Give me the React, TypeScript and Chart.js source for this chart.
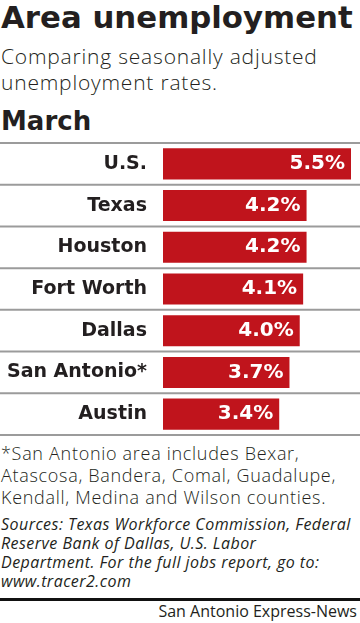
import React, { useEffect, useRef } from "react";
import { Chart, registerables } from "chart.js";

Chart.register(...registerables);

const categories = ["U.S.", "Texas", "Houston", "Fort Worth", "Dallas", "San Antonio*", "Austin"];
const rates = [5.5, 4.2, 4.2, 4.1, 4.0, 3.7, 3.4];
const valueLabels = ["5.5%", "4.2%", "4.2%", "4.1%", "4.0%", "3.7%", "3.4%"];

const titleText = "Area unemployment";
const subtitleLines = ["Comparing seasonally adjusted", "unemployment rates."];
const periodText = "March";
const footnoteLines = [
  "*San Antonio area includes Bexar,",
  "Atascosa, Bandera, Comal, Guadalupe,",
  "Kendall, Medina and Wilson counties.",
];
const sourceLines = [
  "Sources: Texas Workforce Commission, Federal",
  "Reserve Bank of Dallas, U.S. Labor",
  "Department. For the full jobs report, go to:",
  "www.tracer2.com",
];
const creditText = "San Antonio Express-News";

const BOLD_FONT = "'DejaVu Sans', sans-serif";
const LIGHT_FONT = "'Open Sans', sans-serif";
const BAR_RED = "#c0141c";
const INK = "#231f20";

const separatorPlugin = {
  id: "separators",
  beforeDatasetsDraw(chart: any) {
    const y = chart.scales.y;
    const ctx = chart.ctx;
    const n = categories.length;
    const step = y.getPixelForValue(1) - y.getPixelForValue(0);
    ctx.save();
    ctx.strokeStyle = "#9b9b9b";
    ctx.lineWidth = 2;
    for (let i = 0; i <= n; i++) {
      const p = y.getPixelForValue(0) + (i - 0.5) * step;
      ctx.beginPath();
      ctx.moveTo(0, p);
      ctx.lineTo(chart.width, p);
      ctx.stroke();
    }
    ctx.restore();
  },
};

const valuePlugin = {
  id: "values",
  afterDatasetsDraw(chart: any) {
    const ctx = chart.ctx;
    const meta = chart.getDatasetMeta(0);
    ctx.save();
    ctx.fillStyle = "#ffffff";
    ctx.font = `bold 20px ${BOLD_FONT}`;
    ctx.textAlign = "right";
    ctx.textBaseline = "middle";
    meta.data.forEach((bar: any, i: number) => {
      ctx.fillText(valueLabels[i], bar.x - 6, bar.y);
    });
    ctx.restore();
  },
};

function BarChart() {
  const ref = useRef<HTMLCanvasElement | null>(null);
  useEffect(() => {
    if (!ref.current) return;
    const chart = new Chart(ref.current, {
      type: "bar",
      data: {
        labels: categories,
        datasets: [
          {
            data: rates,
            backgroundColor: BAR_RED,
            borderWidth: 0,
            barPercentage: 0.745,
            categoryPercentage: 1,
          },
        ],
      },
      options: {
        indexAxis: "y",
        responsive: false,
        animation: false,
        layout: { padding: { top: 2, bottom: 2, left: 0, right: 9 } },
        plugins: { legend: { display: false }, tooltip: { enabled: false } },
        scales: {
          x: { display: false, min: 0, max: 5.5 },
          y: {
            grid: { display: false },
            border: { display: false },
            ticks: {
              color: INK,
              padding: 8,
              font: { family: BOLD_FONT, size: 19, weight: "bold" as any },
            },
            afterFit(scale: any) {
              scale.width = 163;
              scale.paddingTop = 0;
              scale.paddingBottom = 0;
            },
          },
        },
      },
      plugins: [separatorPlugin, valuePlugin],
    });
    return () => chart.destroy();
  }, []);
  return (
    <canvas
      ref={ref}
      width={360}
      height={296}
      style={{ position: "absolute", left: 0, top: 141, width: 360, height: 296 }}
    />
  );
}

export default function App() {
  const base: React.CSSProperties = { position: "absolute", left: 1, color: INK, whiteSpace: "nowrap" };
  return (
    <div style={{ position: "relative", width: 360, height: 623, background: "#fff", overflow: "hidden" }}>
      <style>{`body{margin:0;background:#fff}`}</style>
      <div style={{ ...base, top: -2, fontFamily: BOLD_FONT, fontSize: 30.8, fontWeight: 700, lineHeight: "38px" }}>{titleText}</div>
      <div style={{ ...base, top: 43, fontFamily: LIGHT_FONT, fontSize: 21, fontWeight: 300, lineHeight: "26px", letterSpacing: "0.8px" }}>
        {subtitleLines.map((l, i) => (
          <div key={i}>{l}</div>
        ))}
      </div>
      <div style={{ ...base, top: 106, fontFamily: BOLD_FONT, fontSize: 26, fontWeight: 700, lineHeight: "31px" }}>{periodText}</div>
      <BarChart />
      <div style={{ ...base, top: 442, fontFamily: LIGHT_FONT, fontSize: 18, fontWeight: 300, lineHeight: "22px", letterSpacing: "0.7px" }}>
        {footnoteLines.map((l, i) => (
          <div key={i}>{l}</div>
        ))}
      </div>
      <div style={{ ...base, top: 515, fontFamily: LIGHT_FONT, fontSize: 16, fontWeight: 400, fontStyle: "italic", lineHeight: "19px", letterSpacing: "0.45px" }}>
        {sourceLines.map((l, i) => (
          <div key={i}>{l}</div>
        ))}
      </div>
      <div style={{ position: "absolute", left: 0, top: 598, width: 360, height: 3, background: "#111" }} />
      <div style={{ ...base, left: "auto", right: 3, top: 602, fontFamily: LIGHT_FONT, fontSize: 16, fontWeight: 400, lineHeight: "19px" }}>{creditText}</div>
    </div>
  );
}
